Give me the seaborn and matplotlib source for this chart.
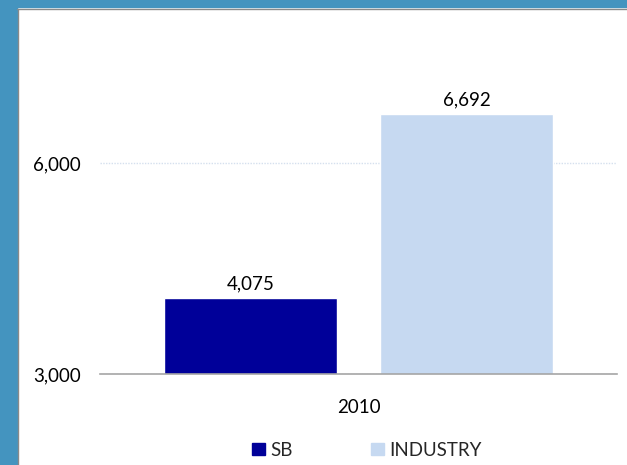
import matplotlib
matplotlib.use("Agg")
import matplotlib.pyplot as plt
import matplotlib.patches as mpatches
import matplotlib.lines as mlines
import seaborn as sns
import pandas as pd

years = ["2010"]
series = ["SB", "INDUSTRY"]
values = [4075, 6692]
colors = ["#000099", "#C6D9F1"]

df = pd.DataFrame({"year": years * len(series), "series": series, "value": values})

sns.set_theme(style="white")
plt.rcParams["font.family"] = ["Lato", "DejaVu Sans"]

W, H = 627, 465
FS = 13.5
fig = plt.figure(figsize=(W / 100, H / 100), dpi=100)
fig.patch.set_facecolor("white")

# frame: blue band on the left and top, thin grey edge along the white panel
band = "#4494BF"
fig.add_artist(mpatches.Rectangle((0, 0), 17 / W, 1, transform=fig.transFigure, color=band, zorder=0))
fig.add_artist(mpatches.Rectangle((0, 1 - 7 / H), 1, 7 / H, transform=fig.transFigure, color=band, zorder=0))
fig.add_artist(mlines.Line2D([17 / W, 1], [1 - 9 / H, 1 - 9 / H], transform=fig.transFigure, color="#8A8A8A", lw=1))
fig.add_artist(mlines.Line2D([17.5 / W, 17.5 / W], [0, 1 - 9 / H], transform=fig.transFigure, color="#8A8A8A", lw=1))

ax_left, ax_right, ax_bottom, ax_top = 100, 617, 374, 20
ax = fig.add_axes([ax_left / W, 1 - ax_bottom / H, (ax_right - ax_left) / W, (ax_bottom - ax_top) / H])
ax.set_facecolor("none")

sns.barplot(data=df, x="year", y="value", hue="series", palette=colors,
            width=0.8, gap=0.2, ax=ax, legend=False, saturation=1)

ymin = 3000
ymax = 3000 + (ax_bottom - ax_top) / 211 * 3000
ax.set_ylim(ymin, ymax)
ax.set_xlim(-0.479, 0.479)

for cont in ax.containers:
    ax.bar_label(cont, labels=[f"{v:,.0f}" for v in cont.datavalues], padding=4, fontsize=FS, color="#000000")

ax.set_yticks([3000, 6000])
ax.set_yticklabels(["3,000", "6,000"])
ax.yaxis.grid(True, color="#D5E0EE", linestyle=(0, (1, 1)), lw=1)
ax.set_axisbelow(True)
ax.tick_params(axis="y", length=0, pad=14, labelsize=FS, labelcolor="#000000")
ax.tick_params(axis="x", length=0, pad=18, labelsize=FS, labelcolor="#000000")
ax.set_xlabel("")
ax.set_ylabel("")
for s in ["left", "right", "top"]:
    ax.spines[s].set_visible(False)
ax.spines["bottom"].set_color("#A6A6A6")
ax.spines["bottom"].set_linewidth(1.2)

handles = [mpatches.Patch(color=c, label=s) for s, c in zip(series, colors)]
fig.legend(handles=handles, loc="center", bbox_to_anchor=(367 / W, 1 - 450 / H), ncol=2,
           frameon=False, fontsize=FS, handlelength=0.65, handleheight=0.65,
           handletextpad=0.3, columnspacing=4.2)

fig.savefig("out.png", dpi=100)
